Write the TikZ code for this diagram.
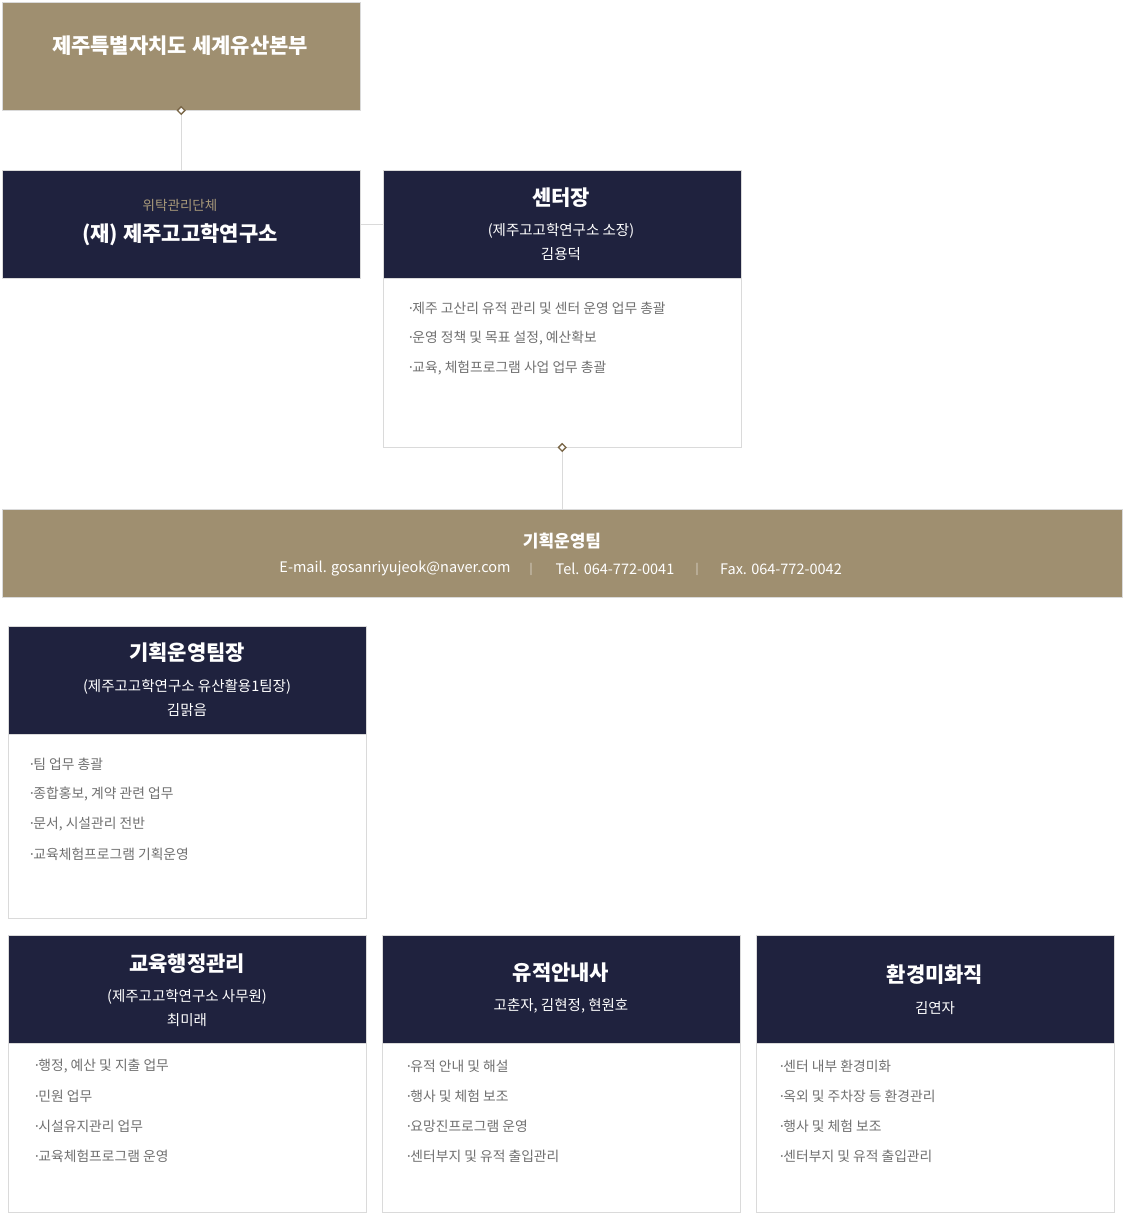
\documentclass[tikz,border=0pt]{standalone}
\usepackage{fontspec}
\setmainfont{Noto Sans CJK KR}
\usepackage{tikz}
\usetikzlibrary{positioning}
\usetikzlibrary{shapes.geometric}
\usepackage{xcolor}
\definecolor{gold}{HTML}{9F8F70}
\definecolor{navy}{HTML}{1F223E}
\definecolor{linegray}{HTML}{DADADA}
\definecolor{dutygray}{HTML}{707070}
\definecolor{paletan}{HTML}{A8997A}
\definecolor{jointbrown}{HTML}{7A6748}
\newcommand{\dutydot}{·\kern-2.5pt}

\tikzset{
    goldbox/.style={draw=linegray, fill=gold, anchor=north west, inner sep=0pt, minimum height=108pt},
    navybox/.style={draw=linegray, fill=navy, anchor=north west, inner sep=0pt, minimum width=358pt, minimum height=108pt},
    bodybox/.style={draw=linegray, fill=white, anchor=north west, inner sep=0pt, minimum width=358pt},
    ttl/.style={text=white, font=\fontsize{21}{21}\selectfont\bfseries},
    subttl/.style={text=white, font=\fontsize{14.5}{14.5}\selectfont},
    duty/.style={text=dutygray, anchor=west, inner sep=0pt, font=\fontsize{13.8}{13.8}\selectfont},
    contact/.style={text=white, font=\fontsize{14.5}{14.5}\selectfont},
    joint/.style={diamond, draw=jointbrown, fill=white, inner sep=0pt, minimum size=8pt, line width=1.3pt},
    link/.style={draw=linegray, line width=0.8pt}
}

\begin{document}
\begin{tikzpicture}[x=1pt,y=-1pt]
    \useasboundingbox (0,0) rectangle (1124,1225);

    % Headquarters
    \node[goldbox, minimum width=358pt] (hq) at (2,2) {};
    \node[ttl] (hqtitle) at (180,46) {제주특별자치도 세계유산본부};

    % Trust institute
    \node[navybox] (trust) at (2,170) {};
    \node[text=paletan, font=\fontsize{13.5}{13.5}\selectfont] (trustnote) at (180,205) {위탁관리단체};
    \node[ttl] (trusttitle) at (180,235) {(재) 제주고고학연구소};

    % Center director
    \node[navybox] (chief) at (383,170) {};
    \node[bodybox, minimum height=169pt] (chiefbody) at (383,278) {};
    \node[ttl] (chieftitle) at (561,198) {센터장};
    \node[subttl] (chiefrole) at (561,231) {(제주고고학연구소 소장)};
    \node[subttl] (chiefname) at (561,254) {김용덕};
    \node[duty] (chiefa) at (407,308) {\dutydot 제주 고산리 유적 관리 및 센터 운영 업무 총괄};
    \node[duty] (chiefb) at (407,338) {\dutydot 운영 정책 및 목표 설정, 예산확보};
    \node[duty] (chiefc) at (407,368) {\dutydot 교육, 체험프로그램 사업 업무 총괄};

    % Planning team bar
    \node[goldbox, minimum width=1120pt, minimum height=88pt] (team) at (2,509) {};
    \node[text=white, font=\fontsize{17}{17}\selectfont\bfseries] (teamtitle) at (562,541) {기획운영팀};
    \node[contact] (mail) at (395,569) {E-mail. gosanriyujeok@naver.com};
    \node[text=white!75!gold, font=\fontsize{11}{11}\selectfont] (sepa) at (531,569) {|};
    \node[contact] (tel) at (615,569) {Tel. 064-772-0041};
    \node[text=white!75!gold, font=\fontsize{11}{11}\selectfont] (sepb) at (697,569) {|};
    \node[contact] (fax) at (781,569) {Fax. 064-772-0042};

    % Team leader
    \node[navybox] (leader) at (8,626) {};
    \node[bodybox, minimum height=184pt] (leaderbody) at (8,734) {};
    \node[ttl] (leadertitle) at (187,653) {기획운영팀장};
    \node[subttl] (leaderrole) at (187,687) {(제주고고학연구소 유산활용1팀장)};
    \node[subttl] (leadername) at (187,710) {김맑음};
    \node[duty] (leadera) at (28,764) {\dutydot 팀 업무 총괄};
    \node[duty] (leaderb) at (28,794) {\dutydot 종합홍보, 계약 관련 업무};
    \node[duty] (leaderc) at (28,824) {\dutydot 문서, 시설관리 전반};
    \node[duty] (leaderd) at (28,854) {\dutydot 교육체험프로그램 기획운영};

    % Education administration
    \node[navybox] (edu) at (8,935) {};
    \node[bodybox, minimum height=169pt] (edubody) at (8,1043) {};
    \node[ttl] (edutitle) at (187,964) {교육행정관리};
    \node[subttl] (edurole) at (187,997) {(제주고고학연구소 사무원)};
    \node[subttl] (eduname) at (187,1020) {최미래};
    \node[duty] (edua) at (33,1066) {\dutydot 행정, 예산 및 지출 업무};
    \node[duty] (edub) at (33,1096) {\dutydot 민원 업무};
    \node[duty] (educ) at (33,1126) {\dutydot 시설유지관리 업무};
    \node[duty] (edud) at (33,1156) {\dutydot 교육체험프로그램 운영};

    % Site guides
    \node[navybox] (guide) at (382,935) {};
    \node[bodybox, minimum height=169pt] (guidebody) at (382,1043) {};
    \node[ttl] (guidetitle) at (561,973) {유적안내사};
    \node[subttl] (guidename) at (561,1006) {고춘자, 김현정, 현원호};
    \node[duty] (guidea) at (405,1066) {\dutydot 유적 안내 및 해설};
    \node[duty] (guideb) at (405,1096) {\dutydot 행사 및 체험 보조};
    \node[duty] (guidec) at (405,1126) {\dutydot 요망진프로그램 운영};
    \node[duty] (guided) at (405,1156) {\dutydot 센터부지 및 유적 출입관리};

    % Environment staff
    \node[navybox] (env) at (756,935) {};
    \node[bodybox, minimum height=169pt] (envbody) at (756,1043) {};
    \node[ttl] (envtitle) at (935,975) {환경미화직};
    \node[subttl] (envname) at (935,1008) {김연자};
    \node[duty] (enva) at (778,1066) {\dutydot 센터 내부 환경미화};
    \node[duty] (envb) at (778,1096) {\dutydot 옥외 및 주차장 등 환경관리};
    \node[duty] (envc) at (778,1126) {\dutydot 행사 및 체험 보조};
    \node[duty] (envd) at (778,1156) {\dutydot 센터부지 및 유적 출입관리};

    % Connectors
    \draw[link] (hq.south) -- (trust.north);
    \draw[link] (trust.east) -- (chief.west);
    \draw[link] (chiefbody.south) -- (team.north -| chiefbody.south);
    \node[joint] (hqjoint) at (hq.south) {};
    \node[joint] (chiefjoint) at (chiefbody.south) {};
\end{tikzpicture}
\end{document}
